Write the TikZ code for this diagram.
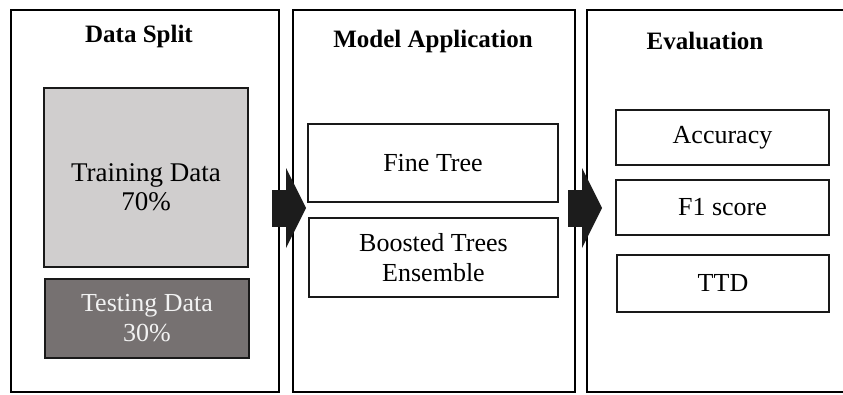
\documentclass[tikz,border=0pt]{standalone}
\usepackage{fontspec}
\setmainfont{Liberation Serif}
\usetikzlibrary{arrows.meta,positioning}
\definecolor{trainfill}{HTML}{D0CECE}
\definecolor{testfill}{HTML}{767171}
\definecolor{arrowfill}{HTML}{1C1C1C}

\begin{document}
\begin{tikzpicture}[
    x=1pt, y=-1pt,
    font=\fontsize{26}{30}\selectfont,
    panel/.style={draw, line width=2pt, minimum height=382pt, inner sep=0pt},
    heading/.style={font=\fontsize{25}{30}\selectfont\bfseries},
    item/.style={draw=black!90, line width=2.5pt, align=center, inner sep=0pt},
    bigarrow/.style={draw=arrowfill, line width=37pt,
      -{Triangle[length=20pt,width=80pt,line width=0pt]}}
  ]
    \useasboundingbox (0,0) rectangle (843,394);

    \node[panel, minimum width=268pt] (split) at (145,201) {};
    \node[panel, minimum width=282pt] (model) at (434,201) {};
    \node[panel, minimum width=258pt] (eval) at (716,201) {};

    \node[heading] (splittitle) at (139,36) {Data Split};
    \node[heading] (modeltitle) at (433,41) {Model Application};
    \node[heading] (evaltitle) at (705,41) {Evaluation};

    \node[item, fill=trainfill, minimum width=204pt, minimum height=179pt,
      font=\fontsize{27}{29}\selectfont] (train) at (146,177.5)
      {\mbox{}\\[8pt]Training Data\\70\%};
    \node[item, fill=testfill, text=white!95!black, minimum width=204pt,
      minimum height=79pt] (test) at (147,318.5) {Testing Data\\30\%};

    \node[item, minimum width=250pt, minimum height=78pt] (finetree) at (433,163)
      {Fine Tree};
    \node[item, minimum width=249pt, minimum height=79pt] (boosted) at (433.5,257.5)
      {Boosted Trees\\Ensemble};

    \node[item, minimum width=213pt, minimum height=55pt] (accuracy) at (722.5,137.5)
      {Accuracy};
    \node[item, minimum width=213pt, minimum height=55pt] (fscore) at (722.5,207.5)
      {F1 score};
    \node[item, minimum width=212pt, minimum height=57pt] (ttd) at (723,283.5)
      {TTD};

    \draw[bigarrow] ([shift={(-8,7)}]split.east) -- ([shift={(14,7)}]model.west);
    \draw[bigarrow] ([shift={(-8,7)}]model.east) -- ([shift={(16,7)}]eval.west);
  \end{tikzpicture}
\end{document}
